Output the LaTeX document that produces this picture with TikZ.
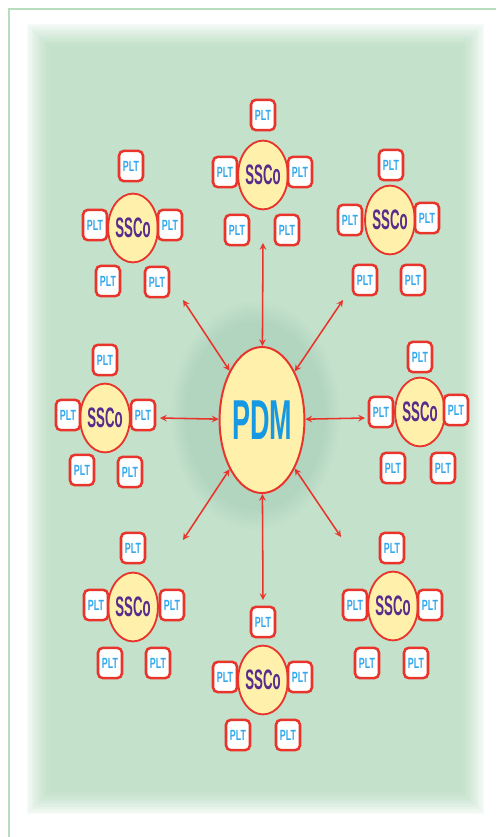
\documentclass[tikz,border=0pt]{standalone}
\usepackage{fontspec}
\setmainfont{Liberation Sans}
\usepackage{graphicx}
\usetikzlibrary{shapes.geometric,fadings}

\definecolor{bggreen}{RGB}{165,210,176}
\definecolor{framegreen}{RGB}{182,222,188}
\definecolor{linkred}{RGB}{232,52,42}
\definecolor{cream}{RGB}{255,241,172}
\definecolor{pdmblue}{RGB}{22,152,226}
\definecolor{pltblue}{RGB}{52,168,236}
\definecolor{sscopurple}{RGB}{86,44,140}

\newcommand{\squeezed}[2]{\scalebox{#1}[1]{#2}}

\tikzset{
  plt/.style={draw=linkred,line width=1.8pt,fill=white,rounded corners=3.5pt,
    minimum width=0.6cm,minimum height=0.76cm,inner sep=0pt,
    text=pltblue,font=\fontsize{10.5}{10.5}\selectfont\bfseries},
  ssco/.style={ellipse,draw=linkred,line width=1.3pt,fill=cream,
    minimum width=1.1cm,minimum height=1.72cm,inner sep=0pt,
    text=sscopurple,font=\fontsize{20}{20}\selectfont\bfseries},
  pdm/.style={ellipse,draw=linkred,line width=1.4pt,fill=cream,
    minimum width=2.1cm,minimum height=3.65cm,inner sep=0pt,
    text=pdmblue,font=\fontsize{40}{40}\selectfont\bfseries},
  link/.style={draw=linkred,line width=1.1pt,<->,>=stealth}
}

\begin{document}
\begin{tikzpicture}[x=0.025cm,y=-0.025cm]
\useasboundingbox (0,0) rectangle (496,837);

% background
\foreach \i in {0,...,9}
  \fill[bggreen,opacity=0.1] (27+\i*2.4,24+\i*2.4) rectangle (484-\i*2.4,814-\i*2.4);
\fill[teal!70!black,opacity=0.09,path fading=circle with fuzzy edge 20 percent]
  (255,415) ellipse (85 and 115);
\draw[framegreen,line width=1.3pt] (9,837) -- (9,9) -- (496,9);

% centre
\node[pdm] (pdm) at (262,420) {\squeezed{0.48}{PDM}};

% top
\begin{scope}[shift={(263,175)}]
\node[ssco] (sn) at (0,0) {\squeezed{0.47}{SSCo}};
\node[plt] (sn1) at (0,-60) {\squeezed{0.6}{PLT}};
\node[plt] (sn2) at (-38,-3) {\squeezed{0.6}{PLT}};
\node[plt] (sn3) at (37,-3) {\squeezed{0.6}{PLT}};
\node[plt] (sn4) at (-26,55) {\squeezed{0.6}{PLT}};
\node[plt] (sn5) at (24,55) {\squeezed{0.6}{PLT}};
\end{scope}

% top left
\begin{scope}[shift={(133,228)}]
\node[ssco] (snw) at (0,0) {\squeezed{0.47}{SSCo}};
\node[plt] (snw1) at (-2,-62) {\squeezed{0.6}{PLT}};
\node[plt] (snw2) at (-38,-3) {\squeezed{0.6}{PLT}};
\node[plt] (snw3) at (37,-3) {\squeezed{0.6}{PLT}};
\node[plt] (snw4) at (-25,53) {\squeezed{0.6}{PLT}};
\node[plt] (snw5) at (24,54) {\squeezed{0.6}{PLT}};
\end{scope}

% top right
\begin{scope}[shift={(390,220)}]
\node[ssco] (sne) at (0,0) {\squeezed{0.47}{SSCo}};
\node[plt] (sne1) at (1,-55) {\squeezed{0.6}{PLT}};
\node[plt] (sne2) at (-40,0) {\squeezed{0.6}{PLT}};
\node[plt] (sne3) at (37,-2) {\squeezed{0.6}{PLT}};
\node[plt] (sne4) at (-25,60) {\squeezed{0.6}{PLT}};
\node[plt] (sne5) at (23,60) {\squeezed{0.6}{PLT}};
\end{scope}

% left
\begin{scope}[shift={(105,418)}]
\node[ssco] (sw) at (0,0) {\squeezed{0.47}{SSCo}};
\node[plt] (sw1) at (0,-58) {\squeezed{0.6}{PLT}};
\node[plt] (sw2) at (-37,-3) {\squeezed{0.6}{PLT}};
\node[plt] (sw3) at (38,-3) {\squeezed{0.6}{PLT}};
\node[plt] (sw4) at (-23,52) {\squeezed{0.6}{PLT}};
\node[plt] (sw5) at (25,54) {\squeezed{0.6}{PLT}};
\end{scope}

% right
\begin{scope}[shift={(420,412)}]
\node[ssco] (se) at (0,0) {\squeezed{0.47}{SSCo}};
\node[plt] (se1) at (0,-55) {\squeezed{0.6}{PLT}};
\node[plt] (se2) at (-39,0) {\squeezed{0.6}{PLT}};
\node[plt] (se3) at (36,-2) {\squeezed{0.6}{PLT}};
\node[plt] (se4) at (-27,56) {\squeezed{0.6}{PLT}};
\node[plt] (se5) at (23,56) {\squeezed{0.6}{PLT}};
\end{scope}

% bottom left
\begin{scope}[shift={(133,607)}]
\node[ssco] (ssw) at (0,0) {\squeezed{0.47}{SSCo}};
\node[plt] (ssw1) at (0,-59) {\squeezed{0.6}{PLT}};
\node[plt] (ssw2) at (-37,-2) {\squeezed{0.6}{PLT}};
\node[plt] (ssw3) at (39,-2) {\squeezed{0.6}{PLT}};
\node[plt] (ssw4) at (-23,56) {\squeezed{0.6}{PLT}};
\node[plt] (ssw5) at (25,56) {\squeezed{0.6}{PLT}};
\end{scope}

% bottom
\begin{scope}[shift={(263,680)}]
\node[ssco] (ss) at (0,0) {\squeezed{0.47}{SSCo}};
\node[plt] (ss1) at (0,-58) {\squeezed{0.6}{PLT}};
\node[plt] (ss2) at (-38,-3) {\squeezed{0.6}{PLT}};
\node[plt] (ss3) at (37,-3) {\squeezed{0.6}{PLT}};
\node[plt] (ss4) at (-25,55) {\squeezed{0.6}{PLT}};
\node[plt] (ss5) at (25,55) {\squeezed{0.6}{PLT}};
\end{scope}

% bottom right
\begin{scope}[shift={(393,606)}]
\node[ssco] (sse) at (0,0) {\squeezed{0.47}{SSCo}};
\node[plt] (sse1) at (-1,-58) {\squeezed{0.6}{PLT}};
\node[plt] (sse2) at (-38,-1) {\squeezed{0.6}{PLT}};
\node[plt] (sse3) at (37,-1) {\squeezed{0.6}{PLT}};
\node[plt] (sse4) at (-26,57) {\squeezed{0.6}{PLT}};
\node[plt] (sse5) at (23,57) {\squeezed{0.6}{PLT}};
\end{scope}

% arrow ends
\coordinate (en) at (263,243);
\coordinate (es) at (263,600);
\coordinate (ew) at (160,418);
\coordinate (ee) at (365,418);
\coordinate (enw) at (183,300);
\coordinate (ene) at (343,300);
\coordinate (esw) at (183,540);
\coordinate (ese) at (341,537);

\draw[link] (en) -- (pdm);
\draw[link] (es) -- (pdm);
\draw[link] (ew) -- (pdm);
\draw[link] (ee) -- (pdm);
\draw[link] (enw) -- (pdm);
\draw[link] (ene) -- (pdm);
\draw[link] (esw) -- (pdm);
\draw[link] (ese) -- (pdm);
\end{tikzpicture}
\end{document}
